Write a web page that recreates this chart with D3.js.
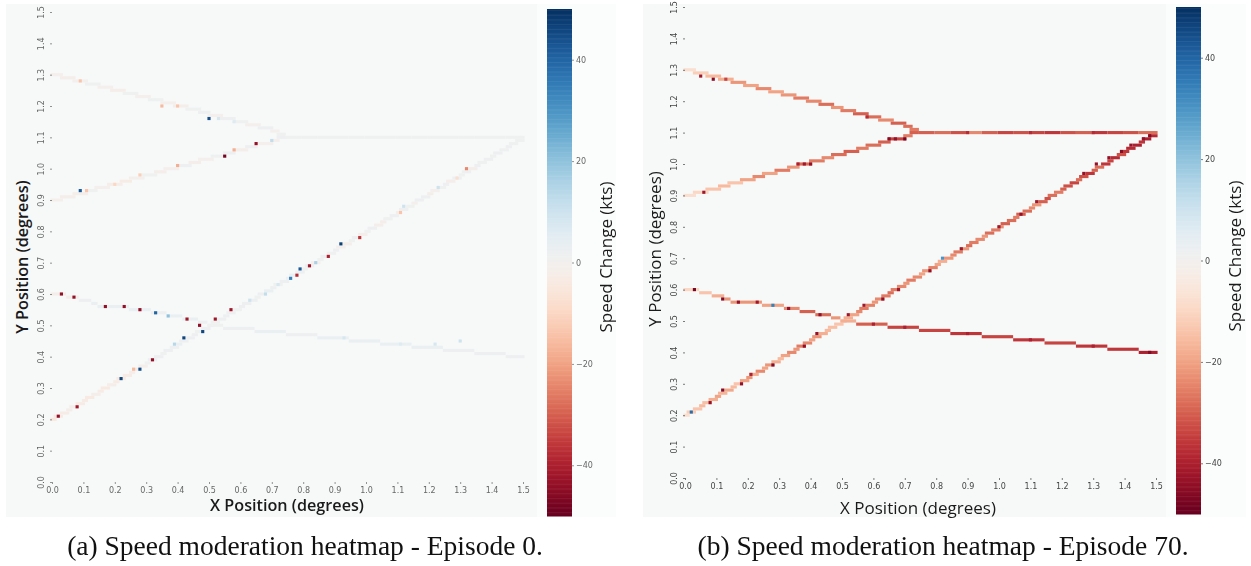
<!DOCTYPE html>
<html>
<head>
<meta charset="utf-8">
<script src="https://cdn.jsdelivr.net/npm/d3@7"></script>
<style>
  html, body { margin: 0; padding: 0; background: #fff; }
  svg { display: block; }
  .blurry { filter: blur(0.7px); }
</style>
</head>
<body>
<div id="chart"></div>
<script>
// tick labels
const posTicks = [0, 0.1, 0.2, 0.3, 0.4, 0.5, 0.6, 0.7, 0.8, 0.9, 1.0, 1.1, 1.2, 1.3, 1.4, 1.5];
const speedTicks = [-40, -20, 0, 20, 40];

// routes: [row, first col, last col] in hundredths of a degree
const routeA = [[130,0,4],[129,3,8],[128,7,12],[127,11,16],[126,15,20],[125,19,24],[124,23,28],[123,27,32],[122,31,36],[121,35,40],
  [120,39,44],[119,43,48],[118,47,51],[117,50,55],[116,54,59],[115,58,63],[114,62,67],[113,66,71],[112,70,73],[111,72,75]];
const routeB = [[90,0,4],[91,3,8],[92,7,12],[93,11,15],[94,14,19],[95,18,23],[96,22,26],[97,25,30],[98,29,34],[99,33,37],
  [100,36,41],[101,40,45],[102,44,48],[103,47,52],[104,51,56],[105,55,59],[106,58,63],[107,62,66],[108,65,71],[109,70,73],[110,72,75]];
const routeC = [[20,0,2],[21,1,4],[22,3,6],[23,5,7],[24,6,9],[25,8,11],[26,10,12],[27,11,14],[28,13,16],[29,15,17],
  [30,16,19],[31,18,21],[32,20,22],[33,21,24],[34,23,26],[35,25,27],[36,26,29],[37,28,31],[38,30,32],[39,31,34],
  [40,33,36],[41,35,37],[42,36,39],[43,38,41],[44,40,42],[45,41,44],[46,43,46],[47,45,47],[48,46,49],[49,48,51],
  [50,50,52],[51,51,54],[52,53,56],[53,55,57],[54,56,59],[55,58,61],[56,60,62],[57,61,64],[58,63,66],[59,65,67],
  [60,66,69],[61,68,71],[62,70,72],[63,71,74],[64,73,76],[65,75,77],[66,76,79],[67,78,81],[68,80,82],[69,81,84],
  [70,83,86],[71,85,87],[72,86,89],[73,88,91],[74,90,92],[75,91,94],[76,93,96],[77,95,97],[78,96,99],[79,98,101],
  [80,100,102],[81,101,104],[82,103,106],[83,105,107],[84,106,109],[85,108,111],[86,110,112],[87,111,114],[88,113,116],[89,115,117],
  [90,116,119],[91,118,121],[92,120,122],[93,121,124],[94,123,126],[95,125,127],[96,126,129],[97,128,131],[98,130,132],[99,131,134],
  [100,133,136],[101,135,137],[102,136,139],[103,138,141],[104,140,142],[105,141,144],[106,143,146],[107,145,147],[108,146,149],[109,148,151]];
const routeD = [[60,0,5],[59,5,9],[58,9,13],[57,13,15],[56,15,25],[55,25,32],[54,32,37],[53,37,42],[52,42,47],[51,47,50],[50,50,55],
  [49,55,65],[48,65,75],[47,75,85],[46,85,95],[45,95,105],[44,105,115],[43,115,125],[42,125,135],[41,135,145],[40,145,151]];
const routeH = [[110,75,80],[110,80,85],[110,85,90],[110,90,95],[110,95,100],[110,100,105],[110,105,110],[110,110,115],
  [110,115,120],[110,120,125],[110,125,130],[110,130,135],[110,135,140],[110,140,145],[110,145,151]];

// speed change per route, episode 0
const ep0A = [-1,-2,-1,1,-1,-2,1,-1,1,-1,-2,1,2,-1,2,1,-1,2,-1,1];
const ep0B = [-1,-2,-2,1,-1,-2,-3,-1,1,-2,-1,2,-2,-1,1,2,-2,2,-1,-1,2];
const ep0C = [-5,-4,-3,-2,-2,-3,-3,-4,-2,-3,-4,-2,-3,-4,-3,-2,-2,-2,1,2,
  2,1,2,2,3,2,2,2,1,2,2,1,2,2,2,1,2,2,2,1,
  2,3,2,1,2,2,3,2,1,2,-1,1,2,1,2,-1,-2,1,2,-2,
  1,2,-2,-2,1,2,-2,2,1,-1,2,2,-2,-1,1,2,-2,2,1,2,
  -2,2,1,2,1,2,1,2,1,1];
const ep0D = [-2,-2,2,3,3,3,2,3,3,2,1,2,3,2,3,3,3,3,2,2,2];
const ep0H = [1,1,1,1,1,1,1,1,1,1,1,1,1,1,1];
// [col, row, kts] for the single cells that stand out
const ep0Spots = [[9,93,42],[11,93,-14],[20,95,-10],[28,98,-12],[40,101,-18],[55,104,-48],[58,106,-18],[65,108,-44],[70,109,12],
  [9,128,-14],[35,120,-16],[40,120,-14],[50,116,44],[53,116,8],[58,115,6],
  [3,60,-44],[7,59,-44],[17,56,-44],[23,56,-44],[28,55,-44],[33,54,40],[37,53,20],[43,52,-42],[47,50,-44],
  [2,21,-44],[8,24,-42],[22,33,46],[26,36,-16],[28,36,44],[32,39,-44],[39,44,14],[42,46,46],[48,48,46],[52,52,-42],[57,55,-42],
  [63,58,10],[68,60,12],[72,63,8],[76,65,34],[78,66,-38],[79,68,42],[82,69,-42],[84,70,16],[88,72,-40],[92,76,47],[98,78,-36],
  [111,86,-14],[112,88,10],[123,94,10],[129,97,-8],[132,100,-24],[130,45,10],[122,44,8],[111,44,6],[93,46,8]];

// speed change per route, episode 70
const ep70A = [-8,-12,-16,-18,-22,-20,-24,-20,-22,-26,-24,-28,-22,-26,-30,-28,-24,-30,-28,-26];
const ep70B = [-8,-10,-14,-16,-14,-20,-24,-20,-26,-22,-28,-26,-24,-28,-30,-26,-28,-30,-34,-26,-30];
const ep70C = [-8,-12,-14,-16,-15,-18,-20,-17,-19,-16,
  -14,-20,-22,-18,-24,-20,-22,-18,-16,-20,
  -24,-22,-26,-24,-20,-22,-18,-16,-15,-14,
  -14,-18,-20,-24,-26,-25,-22,-24,-26,-28,
  -26,-24,-22,-26,-24,-20,-22,-25,-20,-18,
  -22,-24,-26,-22,-28,-26,-24,-22,-28,-26,
  -24,-30,-28,-26,-30,-28,-24,-22,-30,-32,
  -28,-26,-30,-32,-34,-28,-32,-36,-30,-28,
  -36,-34,-38,-32,-36,-38,-40,-36,-40,-38];
const ep70D = [-10,-14,-18,-22,-22,-20,-24,-30,-28,-22,-18,-30,-34,-34,-36,-34,-36,-34,-36,-36,-40];
const ep70H = [-30,-28,-32,-24,-30,-34,-32,-34,-36,-32,-30,-36,-34,-32,-28];
const ep70Spots = [[5,128,-42],[9,127,-46],[13,127,-34],[58,115,-38],
  [6,91,-42],[36,100,-40],[38,100,-42],[40,100,-44],[65,108,-46],[67,108,-44],[70,108,-48],
  [3,60,-48],[12,57,-46],[17,56,-44],[23,56,-42],[28,55,34],[33,54,-44],[43,52,-44],
  [2,21,38],[8,24,-44],[12,28,-46],[18,30,-44],[21,33,-40],[28,36,-46],[38,42,-44],[42,46,-44],[52,52,-42],[57,55,-42],
  [63,57,-44],[68,60,-42],[78,66,-44],[82,70,30],[88,73,-42],[100,80,-42],[107,84,-44],[112,88,-42],[127,97,-44],
  [131,100,-44],[135,102,-44],[139,104,-46],[142,106,-44],[146,108,-44],[148,109,-46],
  [60,49,-40],[70,48,-40],[90,46,-40],[110,44,-40],[130,42,-40],[148,40,-46],[90,110,-38],[110,110,-38],[130,110,-38]];

const width = 1251, height = 566;
const cellFont = "'DejaVu Sans', sans-serif";
const labelFont = "'Open Sans', sans-serif";

const svg = d3.select("#chart").append("svg")
  .attr("width", width)
  .attr("height", height);

const color = d3.scaleSequential(d3.interpolateRdBu).domain([-50, 50]);

function drawPanel(p) {
  const g = svg.append("g");

  // backdrop of the screenshot
  g.append("rect").attr("x", p.left).attr("y", 4).attr("width", p.right - p.left).attr("height", 513).attr("fill", "#fbfcfc");
  g.append("rect").attr("x", p.left).attr("y", 4).attr("width", p.cbarX - 10 - p.left).attr("height", 513).attr("fill", "#f7f9f9");

  const x = d3.scaleLinear().domain([0, 1.5]).range(p.xRange);
  const y = d3.scaleLinear().domain([0, 1.5]).range(p.yRange);

  const marks = g.append("g").attr("class", p.blur ? "blurry" : null);

  const cells = [];
  p.routes.forEach(function (r) {
    r[0].forEach(function (run, i) {
      cells.push({ row: run[0], from: run[1], to: run[2], v: r[1][i] });
    });
  });
  p.spots.forEach(function (s) {
    cells.push({ row: s[1], from: s[0], to: s[0] + 1, v: s[2] });
  });

  marks.selectAll("rect.cell")
    .data(cells)
    .enter()
    .append("rect")
    .attr("class", "cell")
    .attr("x", function (d) { return x((d.from - 0.5) / 100); })
    .attr("y", function (d) { return y((d.row + 0.5) / 100); })
    .attr("width", function (d) { return x((d.to - 0.5) / 100) - x((d.from - 0.5) / 100); })
    .attr("height", function (d) { return y((d.row - 0.5) / 100) - y((d.row + 0.5) / 100); })
    .attr("fill", function (d) { return color(d.v); });

  // X axis
  const xAxis = marks.append("g")
    .attr("transform", "translate(0," + p.yRange[0] + ")")
    .call(d3.axisBottom(x).tickValues(posTicks).tickSize(2).tickPadding(3).tickFormat(d3.format(".1f")));
  // Y axis, labels turned like the seaborn ones
  const yAxis = marks.append("g")
    .attr("transform", "translate(" + p.xRange[0] + ",0)")
    .call(d3.axisLeft(y).tickValues(posTicks).tickSize(2).tickPadding(3).tickFormat(d3.format(".1f")));
  yAxis.selectAll("text")
    .attr("transform", "rotate(-90)")
    .attr("x", 0)
    .attr("y", -8)
    .attr("dy", 0)
    .style("text-anchor", "middle");

  // colour bar
  const c = d3.scaleLinear().domain([-50, 50]).range(p.cbarRange);
  const steps = d3.range(-50, 50, 0.25);
  marks.selectAll("rect.bar")
    .data(steps)
    .enter()
    .append("rect")
    .attr("class", "bar")
    .attr("x", p.cbarX)
    .attr("y", function (d) { return c(d + 0.25); })
    .attr("width", 25)
    .attr("height", function (d) { return c(d) - c(d + 0.25) + 0.5; })
    .attr("fill", function (d) { return color(d); });
  const cAxis = marks.append("g")
    .attr("transform", "translate(" + (p.cbarX + 25) + ",0)")
    .call(d3.axisRight(c).tickValues(speedTicks).tickSize(2).tickPadding(2));

  [xAxis, yAxis, cAxis].forEach(function (a) {
    a.select(".domain").remove();
    a.selectAll("line").attr("stroke", p.tickColor).attr("stroke-width", 0.7);
    a.selectAll("text").attr("fill", p.tickColor).style("font-family", cellFont).style("font-size", "8px");
  });

  // axis titles
  g.append("text")
    .attr("x", p.xLabel[0]).attr("y", p.xLabel[1])
    .attr("text-anchor", "middle")
    .style("font-family", labelFont).style("font-size", p.labelSize).style("font-weight", p.labelWeight).attr("fill", "#1a1a1a")
    .text("X Position (degrees)");
  g.append("text")
    .attr("transform", "translate(" + p.yLabel[0] + "," + p.yLabel[1] + ") rotate(-90)")
    .attr("text-anchor", "middle")
    .style("font-family", labelFont).style("font-size", p.labelSize).style("font-weight", p.labelWeight).attr("fill", "#1a1a1a")
    .text("Y Position (degrees)");
  g.append("text")
    .attr("transform", "translate(" + p.cLabel[0] + "," + p.cLabel[1] + ") rotate(-90)")
    .attr("text-anchor", "middle")
    .style("font-family", labelFont).style("font-size", "17px").attr("fill", "#1a1a1a")
    .text("Speed Change (kts)");

  // caption
  svg.append("text")
    .attr("x", p.caption[0]).attr("y", p.caption[1])
    .attr("text-anchor", "middle")
    .style("font-family", "'Liberation Serif', serif").style("font-size", "27.5px").attr("fill", "#111")
    .text(p.captionText);
}

drawPanel({
  left: 6, right: 616, blur: true, tickColor: "#666", labelWeight: 600, labelSize: "16.2px",
  xRange: [52, 523], yRange: [482, 12], cbarX: 547, cbarRange: [516, 9],
  xLabel: [287, 511], yLabel: [28, 257], cLabel: [612, 257], caption: [305, 555],
  captionText: "(a) Speed moderation heatmap - Episode 0.",
  routes: [[routeA, ep0A], [routeB, ep0B], [routeC, ep0C], [routeD, ep0D], [routeH, ep0H]],
  spots: ep0Spots
});
drawPanel({
  left: 643, right: 1246, blur: false, tickColor: "#444", labelWeight: 400, labelSize: "17px",
  xRange: [685, 1156], yRange: [478, 7], cbarX: 1176, cbarRange: [514, 7],
  xLabel: [918, 514], yLabel: [661, 249], cLabel: [1241, 256], caption: [943, 555],
  captionText: "(b) Speed moderation heatmap - Episode 70.",
  routes: [[routeA, ep70A], [routeB, ep70B], [routeC, ep70C], [routeD, ep70D], [routeH, ep70H]],
  spots: ep70Spots
});
</script>
</body>
</html>
